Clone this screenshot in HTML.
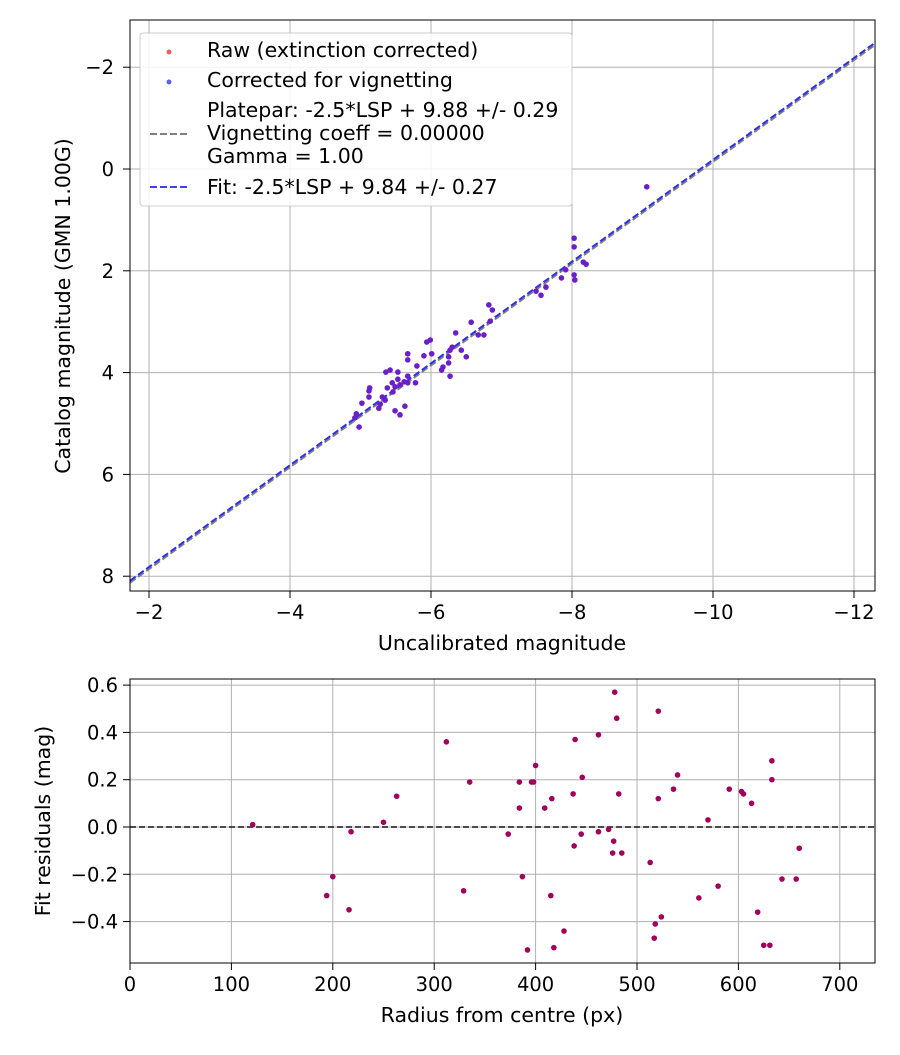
<!DOCTYPE html>
<html><head><meta charset="utf-8"><style>
body{margin:0;background:#fff}
svg{font-family:"DejaVu Sans","Liberation Sans",sans-serif}
svg text{font-size:19.5px}
</style></head><body>
<svg id="s" width="900" height="1050"></svg>
<script>
const topX=[-9.06,-8.03,-8.03,-8.03,-8.04,-8.16,-8.20,-7.91,-7.85,-7.63,-7.56,-7.49,-6.82,-6.87,-6.84,-6.75,-6.67,-6.57,-6.35,-6.30,-6.27,-6.43,-6.50,-6.25,-6.25,-6.17,-6.15,-6.27,-5.99,-5.94,-6.01,-5.90,-5.80,-5.67,-5.67,-5.78,-5.67,-5.67,-5.63,-5.62,-5.53,-5.53,-5.56,-5.45,-5.49,-5.46,-5.36,-5.35,-5.31,-5.26,-5.56,-5.49,-5.12,-5.12,-5.02,-4.94,-4.98,-5.13,-5.38,-5.28,-5.42,-4.92];
const topY=[0.35,1.36,1.53,2.08,2.18,1.83,1.87,1.98,2.14,2.32,2.48,2.40,2.67,2.77,2.99,3.26,3.26,3.01,3.22,3.50,3.56,3.56,3.69,3.69,3.81,3.89,3.95,4.07,3.36,3.40,3.63,3.67,3.87,3.63,3.75,4.20,4.07,4.20,4.66,4.18,3.99,4.13,4.24,4.20,4.28,4.38,3.99,4.54,4.48,4.70,4.83,4.75,4.36,4.48,4.60,4.81,5.07,4.30,4.30,4.62,3.95,4.89];
const fitIntercept=9.82;
const topXTicks=[-2,-4,-6,-8,-10,-12];
const topYTicks=[-2,0,2,4,6,8];
const resR=[121,194,200,216,218,250,263,312,329,335,373,384,384,387,392,396,398,400,409,415,416,418,428,437,438,439,446,445,462,462,472,476,477,478,480,482,485,513,517,518,521,521,524,536,540,561,570,580,591,603,605,613,619,625,631,633,633,643,657,660];
const resV=[0.01,-0.29,-0.21,-0.35,-0.02,0.02,0.13,0.36,-0.27,0.19,-0.03,0.19,0.08,-0.21,-0.52,0.19,0.19,0.26,0.08,-0.29,0.12,-0.51,-0.44,0.14,-0.08,0.37,0.21,-0.03,0.39,-0.02,-0.01,-0.11,-0.06,0.57,0.46,0.14,-0.11,-0.15,-0.47,-0.41,0.49,0.12,-0.38,0.16,0.22,-0.30,0.03,-0.25,0.16,0.15,0.14,0.10,-0.36,-0.50,-0.50,0.28,0.20,-0.22,-0.22,-0.09];
const botXTicks=[0,100,200,300,400,500,600,700];
const botYTicks=[0.6,0.4,0.2,0.0,-0.2,-0.4];

const s=document.getElementById('s');const NS='http://www.w3.org/2000/svg';
function E(t,a,txt){const e=document.createElementNS(NS,t);for(const k in a)e.setAttribute(k,a[k]);if(txt!==undefined)e.textContent=txt;s.appendChild(e);return e;}
const fmt=v=>(v<0?'\u2212':'')+Math.abs(v);
const TS='font-size:20.5px';
const L=130,R=875,T1=20,B1=591;
const tx=v=>149+(-2-v)*70.5, ty=v=>169+v*50.9;
let g;
for(const v of topXTicks){g=E('line',{x1:tx(v),x2:tx(v),y1:T1,y2:B1,stroke:'#b0b0b0','stroke-width':1});
 E('line',{x1:tx(v),x2:tx(v),y1:B1,y2:B1+7,stroke:'#000'});
 g=E('text',{x:tx(v),y:B1+28,'text-anchor':'middle'},fmt(v));}
for(const v of topYTicks){g=E('line',{x1:L,x2:R,y1:ty(v),y2:ty(v),stroke:'#b0b0b0'});
 E('line',{x1:L-7,x2:L,y1:ty(v),y2:ty(v),stroke:'#000'});
 g=E('text',{x:L-16,y:ty(v)+7,'text-anchor':'end'},fmt(v));}
const xa=-1.73,xb=-12.3;
g=E('line',{x1:tx(xa),y1:ty(xa+fitIntercept+0.04),x2:tx(xb),y2:ty(xb+fitIntercept+0.04),stroke:'#808080','stroke-width':2,'stroke-dasharray':'7,3'});
g=E('line',{x1:tx(xa),y1:ty(xa+fitIntercept),x2:tx(xb),y2:ty(xb+fitIntercept),stroke:'#3030ee','stroke-width':2,'stroke-dasharray':'7,3'});
for(let i=0;i<topX.length;i++){g=E('circle',{cx:tx(topX[i]),cy:ty(topY[i]),r:2.8,fill:'#6a1fc8'});}
g=E('rect',{x:L,y:T1,width:R-L,height:B1-T1,fill:'none',stroke:'#000'});
g=E('text',{x:502,y:650,'text-anchor':'middle',style:TS},'Uncalibrated magnitude');
g=E('text',{x:70,y:306,'text-anchor':'middle',style:TS,transform:'rotate(-90 70 306)'},'Catalog magnitude (GMN 1.00G)');
g=E('rect',{x:140,y:33,width:432,height:173,rx:3,fill:'#fff','fill-opacity':0.85,stroke:'#ccc'});
E('circle',{cx:169,cy:52,r:2.5,fill:'#f06060'});E('circle',{cx:169,cy:82,r:2.5,fill:'#6060f0'});
E('line',{x1:150,x2:190,y1:134,y2:134,stroke:'#808080','stroke-width':2,'stroke-dasharray':'7,3'});
E('line',{x1:150,x2:190,y1:187,y2:187,stroke:'#4040ee','stroke-width':2,'stroke-dasharray':'7,3'});
const lt=[['Raw (extinction corrected)',57],['Corrected for vignetting',87],['Platepar: -2.5*LSP + 9.88 +/- 0.29',117],['Vignetting coeff = 0.00000',140],['Gamma = 1.00',163],['Fit: -2.5*LSP + 9.84 +/- 0.27',194]];
for(const [t,y] of lt){g=E('text',{x:207,y:y,style:TS},t);}
const T2=679,B2=963;
const bx=v=>130+v*1.014, by=v=>827-v*236.5;
for(const v of botXTicks){g=E('line',{x1:bx(v),x2:bx(v),y1:T2,y2:B2,stroke:'#b0b0b0'});
 E('line',{x1:bx(v),x2:bx(v),y1:B2,y2:B2+7,stroke:'#000'});
 g=E('text',{x:bx(v),y:B2+28,'text-anchor':'middle'},String(v));}
for(const v of botYTicks){g=E('line',{x1:L,x2:R,y1:by(v),y2:by(v),stroke:'#b0b0b0'});
 E('line',{x1:L-7,x2:L,y1:by(v),y2:by(v),stroke:'#000'});
 g=E('text',{x:L-12,y:by(v)+7,'text-anchor':'end'},(v<0?'\u2212':'')+Math.abs(v).toFixed(1));}
g=E('line',{x1:L,x2:R,y1:by(0),y2:by(0),stroke:'#333','stroke-width':1.8,'stroke-dasharray':'6,3'});
for(let i=0;i<resR.length;i++){g=E('circle',{cx:bx(resR[i]),cy:by(resV[i]),r:2.8,fill:'#a0005c'});}
g=E('rect',{x:L,y:T2,width:R-L,height:B2-T2,fill:'none',stroke:'#000'});
g=E('text',{x:502,y:1022,'text-anchor':'middle',style:TS},'Radius from centre (px)');
g=E('text',{x:50,y:821,'text-anchor':'middle',style:TS,transform:'rotate(-90 50 821)'},'Fit residuals (mag)');
</script>
</body></html>
